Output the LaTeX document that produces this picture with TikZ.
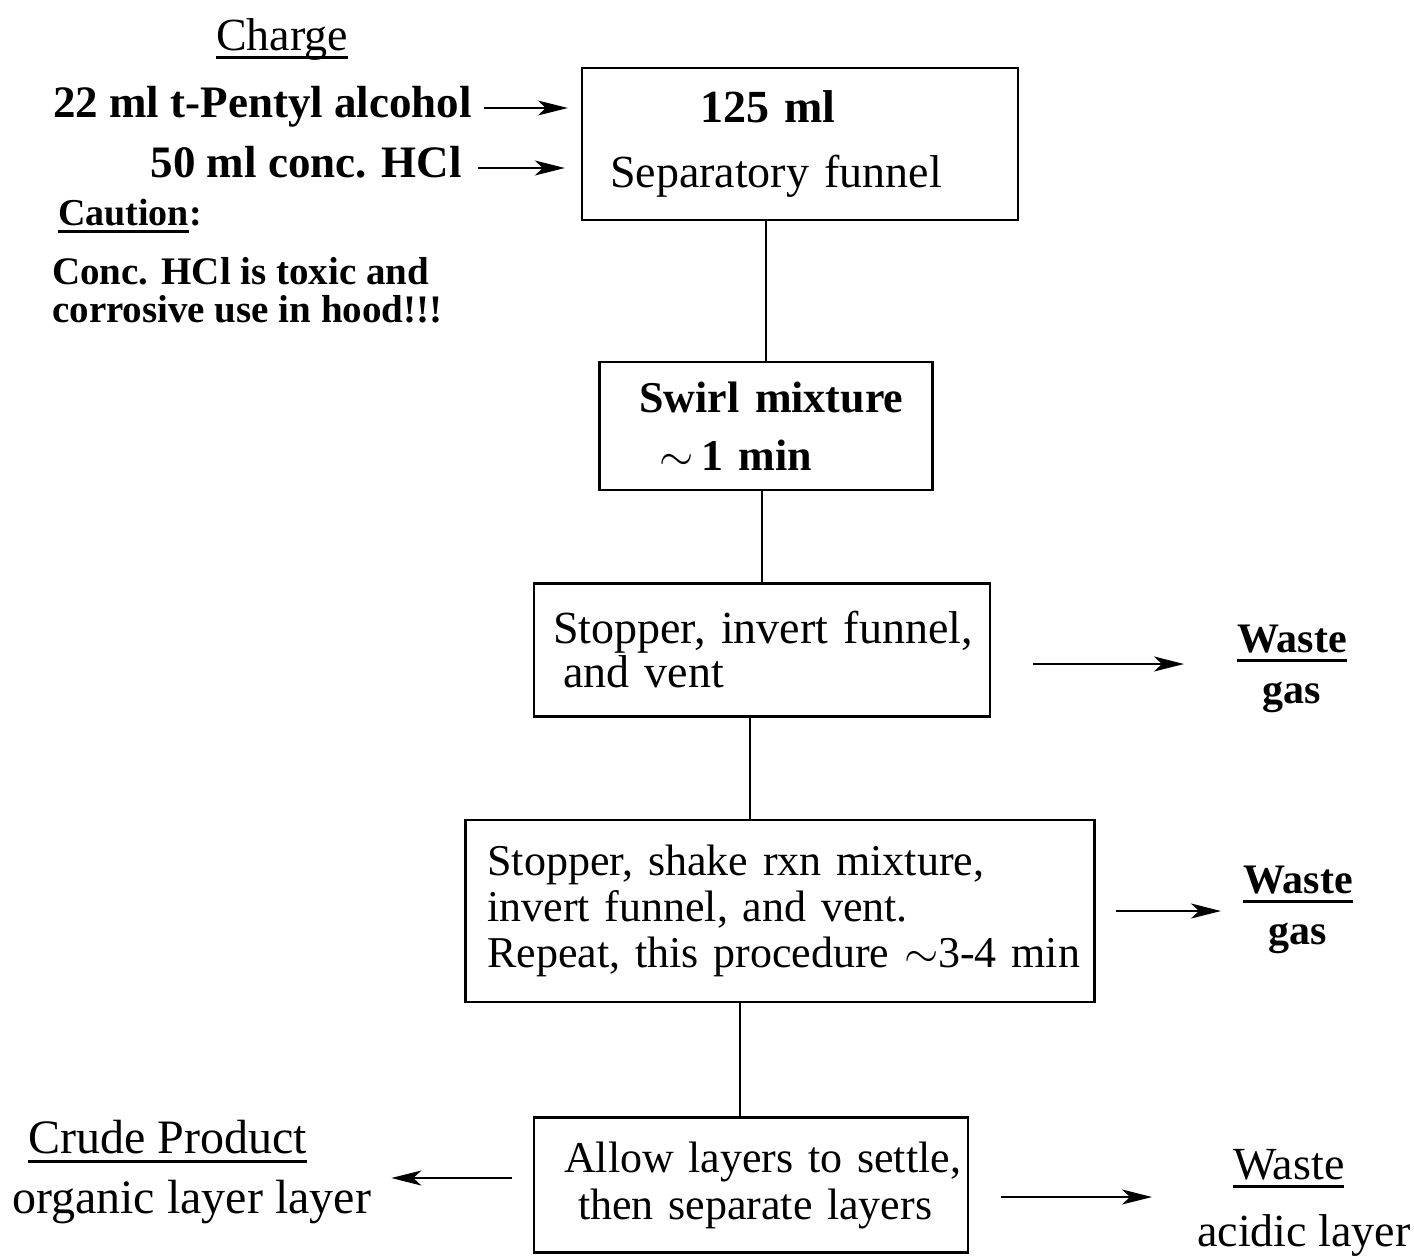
\RequirePackage{fix-cm}
\documentclass[tikz,border=0pt]{standalone}
\usepackage{fontspec}
\setmainfont{Liberation Serif}
\usetikzlibrary{arrows.meta,calc}
\newcommand{\ulx}[2][9pt]{\leavevmode\setbox0=\hbox{#2}\rlap{\rule[-#1]{\wd0}{3pt}}\box0}
\begin{document}
\begin{tikzpicture}[x=1pt,y=-1pt,
  box/.style={draw,line width=2.4pt,inner xsep=0pt,inner ysep=0pt,align=left,
    font=\fontsize{46}{46}\selectfont},
  lbl/.style={inner sep=0pt,font=\fontsize{45}{46}\selectfont\bfseries},
  wlbl/.style={inner sep=0pt,align=center,font=\fontsize{42}{44}\selectfont\bfseries},
  rlbl/.style={inner sep=0pt,align=left,font=\fontsize{47}{46}\selectfont},
  arr/.style={line width=2pt,-{Stealth[length=30pt,width=15pt,inset=8pt]}},
  con/.style={line width=2.2pt}]
\useasboundingbox[fill=white] (0,0) rectangle (1414,1256);

% boxes
\node[box,text width=436pt,minimum height=152pt] (box1) at (800,144)
  {\hspace*{118pt}\mbox{\textbf{125 ml}}\\[19pt]\hspace*{28pt}\mbox{Separatory funnel}};
\node[box,text width=333pt,minimum height=128pt] (box2) at (766,426)
  {\hspace*{40pt}\mbox{\bfseries\fontsize{44}{46}\selectfont Swirl mixture}\\[12pt]\hspace*{60pt}\mbox{\bfseries\fontsize{44}{46}\selectfont $\sim$\,1 min}};
\node[box,text width=456pt,minimum height=133pt] (box3) at (762,650)
  {\hspace*{19pt}\mbox{Stopper, invert funnel,}\\[-2pt]\hspace*{29pt}\mbox{and vent}};
\node[box,text width=629pt,minimum height=182pt,font=\fontsize{44}{46}\selectfont] (box4) at (780,911)
  {\hspace*{22pt}\mbox{Stopper, shake rxn mixture,}\\\hspace*{22pt}\mbox{invert funnel, and vent.}\\\hspace*{22pt}\mbox{Repeat, this procedure $\sim$3-4 min}};
\node[box,text width=434pt,minimum height=135pt,font=\fontsize{44}{46}\selectfont] (box5) at (751,1185)
  {\hspace*{30pt}\mbox{Allow layers to settle,}\\[1pt]\hspace*{44pt}\mbox{then separate layers}};

% left labels
\node[inner sep=0pt,anchor=base,font=\fontsize{46}{46}\selectfont] (charge) at (282,50) {\ulx{Charge}};
\node[lbl,anchor=base east] (alc) at (472,117) {22 ml t-Pentyl alcohol};
\node[lbl,anchor=base east] (hcl) at (462,177) {50 ml conc. HCl};
\node[inner sep=0pt,anchor=base west,font=\fontsize{38}{40}\selectfont\bfseries] (caution) at (58,225) {\ulx[8pt]{Caution}:};
\node[inner sep=0pt,anchor=north west,align=left,font=\fontsize{39}{38}\selectfont\bfseries] (warn) at (52,257)
  {Conc. HCl is toxic and\\corrosive use in hood!!!};

% right labels
\node[wlbl,anchor=north] (w1) at (1292,625) {\ulx{Waste}\\[7pt]gas};
\node[wlbl,anchor=north] (w2) at (1298,866) {\ulx{Waste}\\[7pt]gas};
\node[rlbl,anchor=north west,font=\fontsize{46}{46}\selectfont] (w3) at (1197,1149) {\hspace*{36pt}\ulx{Waste}\\[21pt]acidic layer};
\node[rlbl,anchor=north west,font=\fontsize{48}{46}\selectfont] (crude) at (12,1120) {\hspace*{16pt}\ulx{Crude Product}\\[14pt]organic layer layer};

% connectors
\draw[con] (box2.north |- box1.south) -- (box2.north);
\draw[con] (box3.north |- box2.south) -- (box3.north);
\path ($(box3.south)+(-12,0)$) coordinate (c34);
\draw[con] (c34) -- (c34 |- box4.north);
\path ($(box5.north)+(-11,0)$) coordinate (c45);
\draw[con] (c45 |- box4.south) -- (c45);

% arrows
\draw[arr,shorten <=12pt,shorten >=13pt] (alc.east |- 0,108) -- (box1.west |- 0,108);
\draw[arr,shorten <=16pt,shorten >=16pt] (hcl.east |- 0,168) -- (box1.west |- 0,168);
\draw[arr,shorten <=42pt,shorten >=53pt] (box3.east |- 0,664) -- (w1.west |- 0,664);
\draw[arr,shorten <=20pt,shorten >=22pt] (box4.east |- 0,911) -- (w2.west |- 0,911);
\draw[arr,shorten <=21pt,shorten >=20pt] (box5.west |- 0,1178) -- (crude.east |- 0,1178);
\draw[arr,shorten <=32pt,shorten >=45pt] (box5.east |- 0,1197) -- (w3.west |- 0,1197);
\end{tikzpicture}
\end{document}
